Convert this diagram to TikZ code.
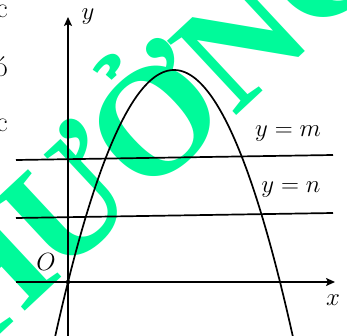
\documentclass[tikz,border=0pt]{standalone}
\usepackage{fontspec}
\newfontfamily\wmfont{Liberation Serif}
\usetikzlibrary{arrows.meta}
\definecolor{wm}{RGB}{0,250,154}
\begin{document}
\begin{tikzpicture}[x=1pt,y=-1pt,
  ax/.style={line width=1.7pt},
  tip/.style={-{Stealth[length=9pt,width=8pt,inset=2pt]}},
  lbl/.style={inner sep=0pt,font=\fontsize{28.5}{32}\selectfont},
  wml/.style={text=wm,inner sep=0pt,anchor=base,rotate=43,font=\wmfont\bfseries\fontsize{155}{160}\selectfont}]
\useasboundingbox (0,0) rectangle (347,336);
% watermark
\node[wml] (w1) at (20,316) {H};
\node[wml] (w2) at (105,237) {Ư};
\node[wml] (w3) at (190,158) {Ở};
\node[wml] (w4) at (275,79) {N};
\node[wml] (w5) at (360,0) {G};
% cut-off text at the left edge
\node[lbl,anchor=base east] (c1) at (8,18) {c};
\node[lbl,anchor=base east] (c2) at (8,77) {ó};
\node[lbl,anchor=base east] (c3) at (8,132) {c};
% axes and lines
\coordinate (xa) at (16,282); \coordinate (xb) at (335,282);
\coordinate (ya) at (68,336); \coordinate (yb) at (68,17);
\coordinate (ma) at (16,160); \coordinate (mb) at (333,155);
\coordinate (na) at (16,218); \coordinate (nb) at (333,213);
\draw[ax,tip] (xa) -- (xb);
\draw[ax,tip] (ya) -- (yb);
\draw[ax] (ma) -- (mb);
\draw[ax] (na) -- (nb);
\draw[ax,domain=55:293,samples=120,smooth] plot (\x,{282-212*(1-((\x-174)/106)^2)});
\node[circle,fill,inner sep=0pt,minimum size=4.5pt] (o) at (68,282) {};
% labels
\node[lbl,anchor=base] (ly) at (88,20) {$y$};
\node[lbl,anchor=base] (lx) at (333,305) {$x$};
\node[lbl,anchor=base] (lo) at (46,270) {$O$};
\node[lbl,anchor=base] (lm) at (288,137) {$y=m$};
\node[lbl,anchor=base] (ln) at (291,193) {$y=n$};
\end{tikzpicture}
\end{document}
